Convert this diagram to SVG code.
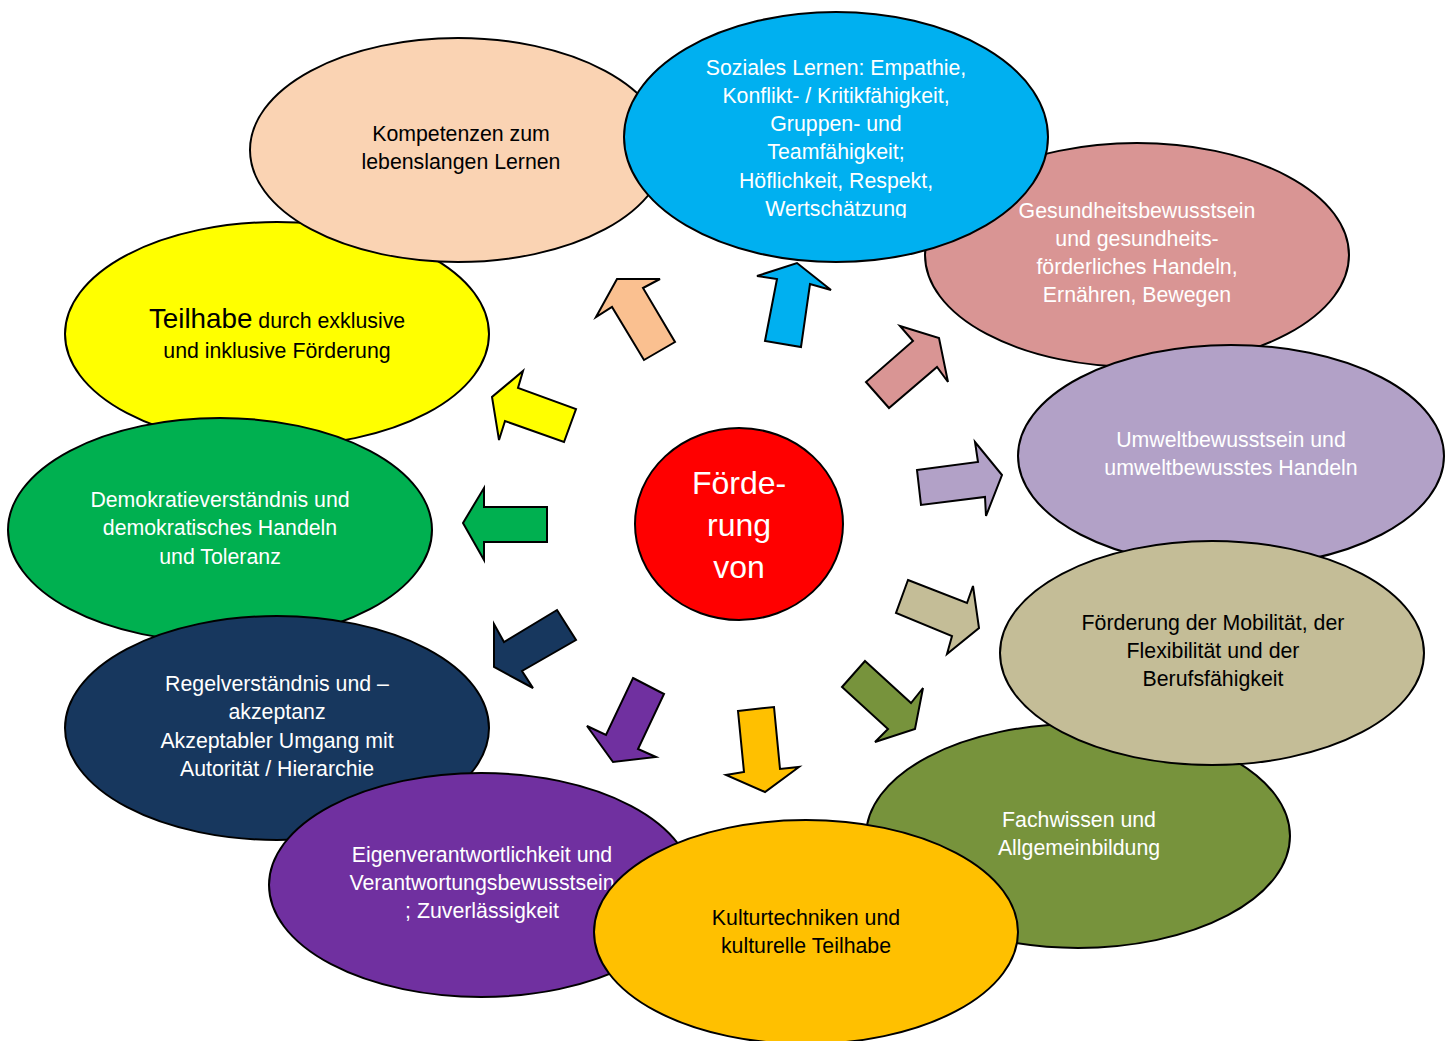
<svg xmlns="http://www.w3.org/2000/svg" width="1450" height="1041" viewBox="0 0 1450 1041">
<style>
  .e { stroke: #000; stroke-width: 2; }
  .t { font-family: "Liberation Sans", Arial, sans-serif; font-size: 21.3px; text-anchor: middle; }
  .big { font-size: 27.8px; }
  .c { font-size: 32px; }
  .w { fill: #fff; }
  .k { fill: #000; }
  .a { stroke: #000; stroke-width: 2; stroke-linejoin: miter; }
</style>
<defs>
  <clipPath id="clipBlue"><rect x="600" y="0" width="480" height="218"/></clipPath>
</defs>
<rect width="1450" height="1041" fill="#fff"/>

<g id="node-gesundheit">
  <ellipse class="e" cx="1137" cy="255" rx="212" ry="112" fill="#D99594"/>
  <text class="t w" x="1137" y="218">Gesundheitsbewusstsein</text>
  <text class="t w" x="1137" y="246">und gesundheits-</text>
  <text class="t w" x="1137" y="274">förderliches Handeln,</text>
  <text class="t w" x="1137" y="302">Ernähren, Bewegen</text>
</g>
<g id="node-umwelt">
  <ellipse class="e" cx="1231" cy="456" rx="213" ry="111" fill="#B2A1C7"/>
  <text class="t w" x="1231" y="447">Umweltbewusstsein und</text>
  <text class="t w" x="1231" y="475">umweltbewusstes Handeln</text>
</g>
<g id="node-fachwissen">
  <ellipse class="e" cx="1078" cy="836" rx="212" ry="112" fill="#77933C"/>
  <text class="t w" x="1079" y="827">Fachwissen und</text>
  <text class="t w" x="1079" y="855">Allgemeinbildung</text>
</g>
<g id="node-mobilitaet">
  <ellipse class="e" cx="1212" cy="653" rx="212" ry="112" fill="#C4BD97"/>
  <text class="t k" x="1213" y="630">Förderung der Mobilität, der</text>
  <text class="t k" x="1213" y="658">Flexibilität und der</text>
  <text class="t k" x="1213" y="686">Berufsfähigkeit</text>
</g>
<g id="node-teilhabe">
  <ellipse class="e" cx="277" cy="334" rx="212" ry="112" fill="#FFFF00"/>
  <text class="t k" x="277" y="328"><tspan class="big">Teilhabe</tspan> durch exklusive</text>
  <text class="t k" x="277" y="358">und inklusive Förderung</text>
</g>
<g id="node-kompetenzen">
  <ellipse class="e" cx="458" cy="150" rx="208" ry="112" fill="#FAD3B3"/>
  <text class="t k" x="461" y="141">Kompetenzen zum</text>
  <text class="t k" x="461" y="169">lebenslangen Lernen</text>
</g>
<g id="node-sozial">
  <ellipse class="e" cx="836" cy="137" rx="212" ry="125" fill="#00B0F0"/>
  <g clip-path="url(#clipBlue)">
    <text class="t w" x="836" y="75">Soziales Lernen: Empathie,</text>
    <text class="t w" x="836" y="103">Konflikt- / Kritikfähigkeit,</text>
    <text class="t w" x="836" y="131">Gruppen- und</text>
    <text class="t w" x="836" y="159">Teamfähigkeit;</text>
    <text class="t w" x="836" y="188">Höflichkeit, Respekt,</text>
    <text class="t w" x="836" y="216">Wertschätzung</text>
  </g>
</g>
<g id="node-demokratie">
  <ellipse class="e" cx="220" cy="530" rx="212" ry="112" fill="#00B050"/>
  <text class="t w" x="220" y="507">Demokratieverständnis und</text>
  <text class="t w" x="220" y="535">demokratisches Handeln</text>
  <text class="t w" x="220" y="564">und Toleranz</text>
</g>
<g id="node-regel">
  <ellipse class="e" cx="277" cy="728" rx="212" ry="112" fill="#17375E"/>
  <text class="t w" x="277" y="691">Regelverständnis und –</text>
  <text class="t w" x="277" y="719">akzeptanz</text>
  <text class="t w" x="277" y="748">Akzeptabler Umgang mit</text>
  <text class="t w" x="277" y="776">Autorität / Hierarchie</text>
</g>
<g id="node-eigen">
  <ellipse class="e" cx="481" cy="885" rx="212" ry="112" fill="#7030A0"/>
  <text class="t w" x="482" y="862">Eigenverantwortlichkeit und</text>
  <text class="t w" x="482" y="890">Verantwortungsbewusstsein</text>
  <text class="t w" x="482" y="918">; Zuverlässigkeit</text>
</g>
<g id="node-kultur">
  <ellipse class="e" cx="806" cy="932" rx="212" ry="112" fill="#FFC000"/>
  <text class="t k" x="806" y="925">Kulturtechniken und</text>
  <text class="t k" x="806" y="953">kulturelle Teilhabe</text>
</g>
<g id="node-center">
  <ellipse class="e" cx="739" cy="524" rx="104" ry="96" fill="#FF0000"/>
  <text class="t c w" x="739" y="494">Förde-</text>
  <text class="t c w" x="739" y="536">rung</text>
  <text class="t c w" x="739" y="578">von</text>
</g>

<g id="connectors">
  <polygon class="a" fill="#FAC090" points="596,317 617,279 660,279 643,288 675,342 644,360 612,307"/>
  <polygon class="a" fill="#00B0F0" points="757,276 797,263 831,290 810,284 801,347 765,341 777,279"/>
  <polygon class="a" fill="#D99594" points="900,326 939,338 948,382 937,367 889,408 866,382 913,341"/>
  <polygon class="a" fill="#B2A1C7" points="917,470 978,462 975,442 1002,475 986,516 985,497 921,505"/>
  <polygon class="a" fill="#C4BD97" points="908,580 967,603 973,586 979,628 947,654 952,636 896,613"/>
  <polygon class="a" fill="#77933C" points="865,661 911,703 923,688 915,729 875,742 888,729 842,687"/>
  <polygon class="a" fill="#FFC000" points="738,711 774,707 780,769 799,767 765,792 726,775 744,772"/>
  <polygon class="a" fill="#7030A0" points="633,678 664,694 638,749 656,757 613,762 587,726 606,735"/>
  <polygon class="a" fill="#17375E" points="557,610 576,640 522,671 533,688 494,667 494,624 504,642"/>
  <polygon class="a" fill="#00B050" points="484,488 484,507 547,507 547,542 484,542 484,560 463,523"/>
  <polygon class="a" fill="#FFFF00" points="523,371 518,388 576,409 564,442 505,421 499,440 492,397"/>
</g>
</svg>
